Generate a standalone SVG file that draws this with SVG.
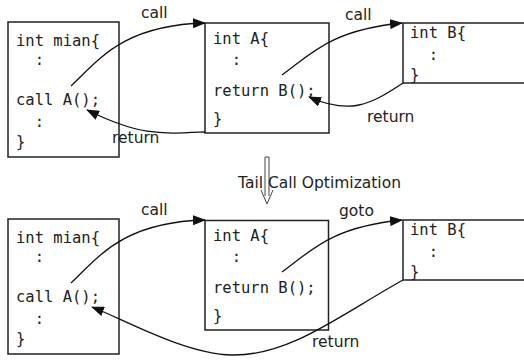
<svg xmlns="http://www.w3.org/2000/svg" width="524" height="360" viewBox="0 0 524 360">
<defs>
<style>
.box{fill:#fff;stroke:#222;stroke-width:1.5}
.code{font-family:"DejaVu Sans Mono","Liberation Mono",monospace;font-size:15.5px;fill:#222}
.lbl{font-family:"DejaVu Sans","Liberation Sans",sans-serif;font-size:15.5px;fill:#222}
.con{fill:none;stroke:#111;stroke-width:1.3;marker-end:url(#ah)}
</style>
<marker id="ah" markerWidth="13" markerHeight="10" refX="12" refY="5" orient="auto" markerUnits="userSpaceOnUse">
<path d="M0,0 L13,5 L0,10 z" fill="#111"/>
</marker>
</defs>
<rect width="524" height="360" fill="#fff"/>

<g id="main-top">
<rect class="box" x="8" y="22" width="111" height="135"/>
<text class="code" x="16" y="46" xml:space="preserve">int mian{</text>
<text class="code" x="16" y="65" xml:space="preserve">  :</text>
<text class="code" x="16" y="105" xml:space="preserve">call A();</text>
<text class="code" x="16" y="127" xml:space="preserve">  :</text>
<text class="code" x="16" y="147" xml:space="preserve">}</text>
</g>
<g id="A-top">
<rect class="box" x="205" y="23" width="124" height="110"/>
<text class="code" x="213" y="44" xml:space="preserve">int A{</text>
<text class="code" x="213" y="65" xml:space="preserve">  :</text>
<text class="code" x="213" y="96" xml:space="preserve">return B();</text>
<text class="code" x="213" y="124" xml:space="preserve">}</text>
</g>
<g id="B-top">
<rect class="box" x="403" y="23" width="140" height="60"/>
<text class="code" x="410" y="38" xml:space="preserve">int B{</text>
<text class="code" x="410" y="60" xml:space="preserve">  :</text>
<text class="code" x="410" y="80" xml:space="preserve">}</text>
</g>

<g id="main-bottom">
<rect class="box" x="8" y="219" width="111" height="135"/>
<text class="code" x="16" y="243" xml:space="preserve">int mian{</text>
<text class="code" x="16" y="262" xml:space="preserve">  :</text>
<text class="code" x="16" y="302" xml:space="preserve">call A();</text>
<text class="code" x="16" y="324" xml:space="preserve">  :</text>
<text class="code" x="16" y="344" xml:space="preserve">}</text>
</g>
<g id="A-bottom">
<rect class="box" x="205" y="220.5" width="123.5" height="109.5"/>
<text class="code" x="213" y="241" xml:space="preserve">int A{</text>
<text class="code" x="213" y="262" xml:space="preserve">  :</text>
<text class="code" x="213" y="293" xml:space="preserve">return B();</text>
<text class="code" x="213" y="321" xml:space="preserve">}</text>
</g>
<g id="B-bottom">
<rect class="box" x="403" y="220" width="140" height="60"/>
<text class="code" x="410" y="235" xml:space="preserve">int B{</text>
<text class="code" x="410" y="257" xml:space="preserve">  :</text>
<text class="code" x="410" y="277" xml:space="preserve">}</text>
</g>

<g id="transform-arrow">
<path d="M265,196 V157 H269 V196" fill="none" stroke="#444" stroke-width="1"/>
<path d="M261,190 L267,204 L273,190" fill="none" stroke="#444" stroke-width="1"/>
<text class="lbl" x="238" y="188">Tail Call Optimization</text>
</g>

<g id="connectors">
<path class="con" d="M71,86 C100,58 125,25 205,23"/>
<path class="con" d="M282,75 C310,55 330,30 402,23"/>
<path class="con" d="M403,83 C370,105 350,115 309,97"/>
<path class="con" d="M205,132 C160,134 140,136 87,110"/>
<path class="con" d="M71,283 C100,255 125,222 205,220"/>
<path class="con" d="M282,272 C310,252 330,227 402,220"/>
<path class="con" d="M403,280 C340,315 290,356 232,355 C185,354 125,320 92,307"/>
<text class="lbl" x="141" y="18">call</text>
<text class="lbl" x="345" y="20">call</text>
<text class="lbl" x="367" y="122">return</text>
<text class="lbl" x="112" y="143">return</text>
<text class="lbl" x="141" y="215">call</text>
<text class="lbl" x="339" y="216">goto</text>
<text class="lbl" x="312" y="347">return</text>
</g>
</svg>
